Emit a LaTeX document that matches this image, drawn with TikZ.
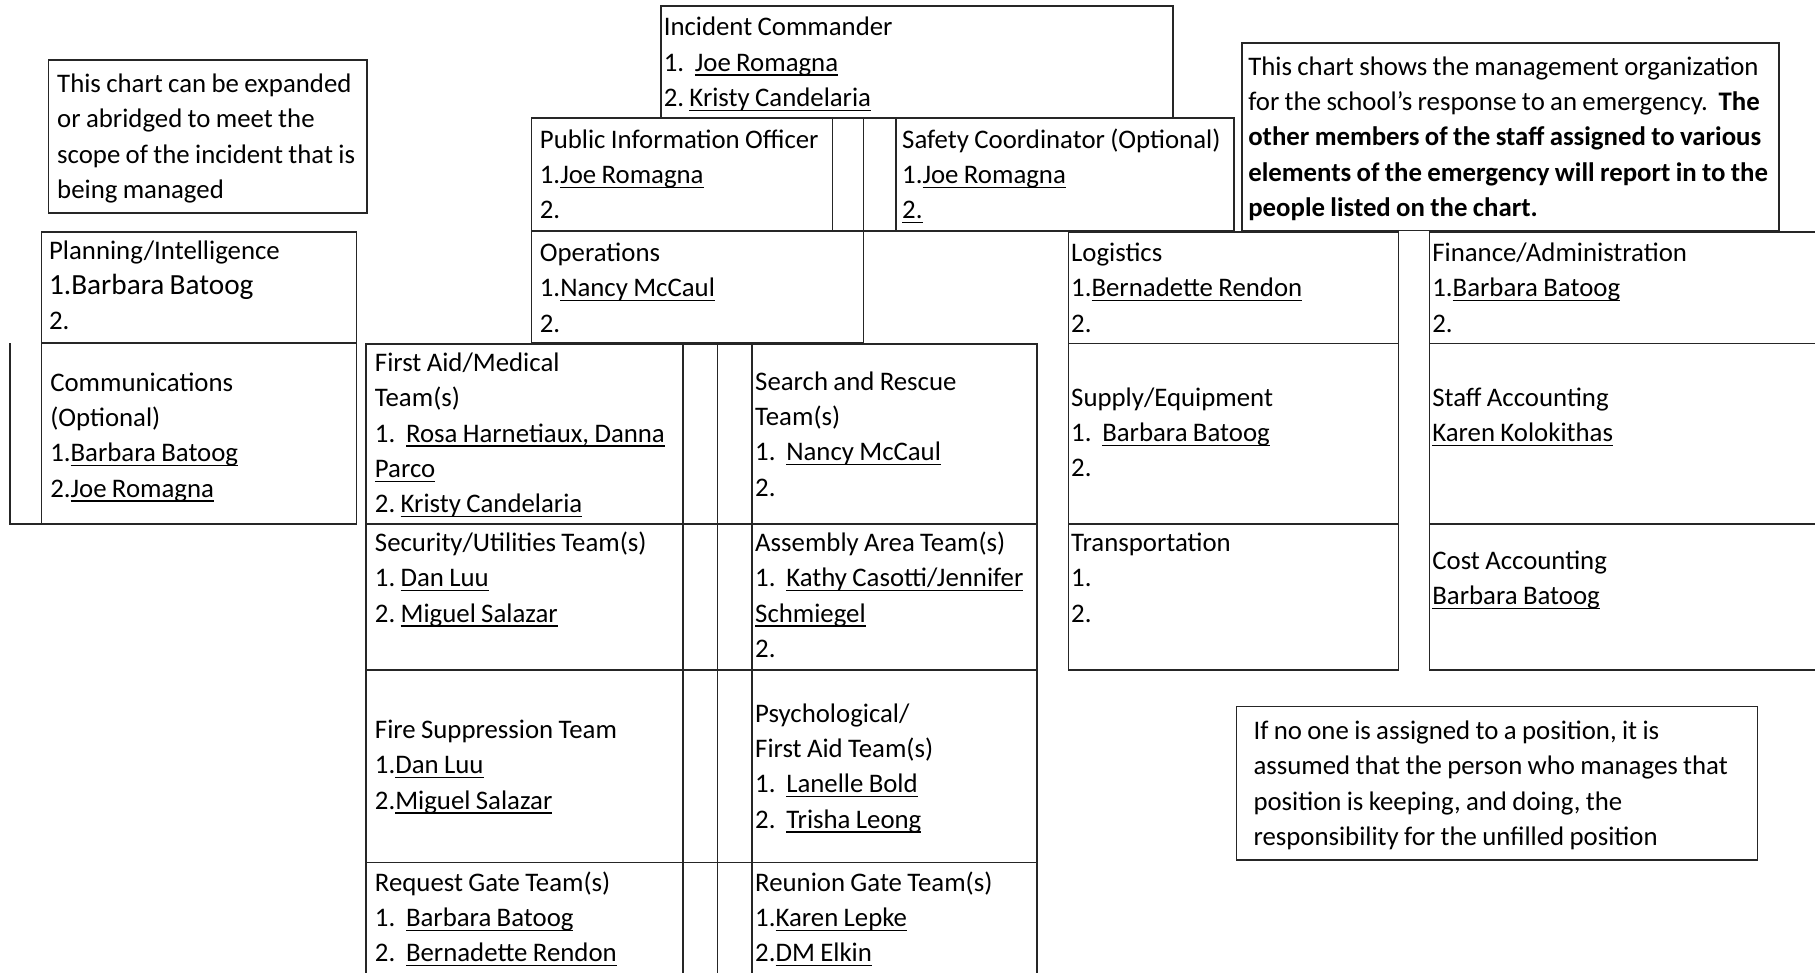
\documentclass[tikz,border=0pt]{standalone}
\usepackage{fontspec}
\setmainfont{Carlito}
\frenchspacing
\newsavebox\nmbox
\newcommand\nm[1]{\leavevmode\sbox\nmbox{#1}\rlap{\rule[-1.8pt]{\wd\nmbox}{0.5pt}}\usebox\nmbox}
\DeclareRobustCommand\tightsp{\spaceskip=0.2em\relax}
\begin{document}
\begin{tikzpicture}
[x=0.475pt, y=-0.475pt,
box/.style={draw=black!85, line width=0.6pt},
txt/.style={anchor=base west, inner sep=0pt, text width=12cm, align=left,
  font=\fontsize{11}{14.5}\selectfont, execute at begin node=\tightsp}
]
\useasboundingbox (0,0) rectangle (1568,840);

% boxes
\draw[box] (42,52) rectangle (317,184);
\draw[box] (571,5) rectangle (1013.5,102);
\draw[box] (459,102) rectangle (1066,199.5);
\draw[box] (719,102) -- (719,199.5) (746,102) -- (746,199.5) (774,102) -- (774,199.5);
\draw[box] (1073,37) rectangle (1537,199);
\draw[box] (459,199.5) rectangle (746,296);
\draw[box] (36,200.5) rectangle (308,452.5);
\draw[box] (36,296.5) -- (308,296.5);
\draw[box] (8.5,296.5) -- (8.5,452.5) -- (36,452.5);
\draw[box] (923,200.5) rectangle (1208,578.8);
\draw[box] (923,296.6) -- (1208,296.6) (923,452.7) -- (1208,452.7);
\draw[box] (1235,200.5) rectangle (1580,578.8);
\draw[box] (1235,296.6) -- (1580,296.6) (1235,452.7) -- (1580,452.7);
\draw[box] (316,297) rectangle (896,860);
\draw[box] (316,452.7) -- (896,452.7) (316,578.8) -- (896,578.8) (316,745.3) -- (896,745.3);
\draw[box] (590,297) -- (590,860) (620,297) -- (620,860) (649.5,297) -- (649.5,860);
\draw[box] (1068,610.5) rectangle (1518.5,743);

% texts
\node[txt] (scope) at (49,80) {This chart can be expanded\\or abridged to meet the\\scope of the incident that is\\being managed};
\node[txt] (ic) at (573,31) {Incident Commander\\1.\ \ \nm{Joe Romagna}\\2. \nm{Kristy Candelaria}};
\node[txt] (pio) at (466,128) {Public Information Officer\\1.\nm{Joe Romagna}\\2.};
\node[txt] (safety) at (779,128) {Safety Coordinator (Optional)\\1.\nm{Joe Romagna}\\\nm{2.}};
\node[txt] (about) at (1078,65) {This chart shows the management organization\\for the school’s response to an emergency.\ \ \textbf{The}\\\textbf{other members of the staff assigned to various}\\\textbf{elements of the emergency will report in to the}\\\textbf{people listed on the chart.}};
\node[txt] (planning) at (42,224) {Planning/Intelligence\\{\fontsize{12}{14.5}\selectfont 1.Barbara Batoog}\\2.};
\node[txt] (ops) at (466,226) {Operations\\1.\nm{Nancy McCaul}\\2.};
\node[txt] (logistics) at (925,226) {Logistics\\1.\nm{Bernadette Rendon}\\2.};
\node[txt] (finance) at (1237,226) {Finance/Administration\\1.\nm{Barbara Batoog}\\2.};
\node[txt] (comms) at (43,338) {Communications\\(Optional)\\1.\nm{Barbara Batoog}\\2.\nm{Joe Romagna}};
\node[txt] (medical) at (323.5,321) {First Aid/Medical\\Team(s)\\1.\ \ \nm{Rosa Harnetiaux, Danna}\\\nm{Parco}\\2. \nm{Kristy Candelaria}};
\node[txt] (rescue) at (652,337) {Search and Rescue\\Team(s)\\1.\ \ \nm{Nancy McCaul}\\2.};
\node[txt] (supply) at (925,351) {Supply/Equipment\\1.\ \ \nm{Barbara Batoog}\\2.};
\node[txt] (staff) at (1237,351) {Staff Accounting\\\nm{Karen Kolokithas}};
\node[txt] (security) at (323.5,476.5) {Security/Utilities Team(s)\\1. \nm{Dan Luu}\\2. \nm{Miguel Salazar}};
\node[txt] (assembly) at (652,476.5) {Assembly Area Team(s)\\1.\ \ \nm{Kathy Casotti/Jennifer}\\\nm{Schmiegel}\\2.};
\node[txt] (transport) at (925,476.5) {Transportation\\1.\\2.};
\node[txt] (cost) at (1237,492) {Cost Accounting\\\nm{Barbara Batoog}};
\node[txt] (fire) at (323.5,638) {Fire Suppression Team\\1.\nm{Dan Luu}\\2.\nm{Miguel Salazar}};
\node[txt] (psych) at (652,624) {Psychological/\\First Aid Team(s)\\1.\ \ \nm{Lanelle Bold}\\2.\ \ \nm{Trisha Leong}};
\node[txt] (request) at (323.5,770) {Request Gate Team(s)\\1.\ \ \nm{Barbara Batoog}\\2.\ \ \nm{Bernadette Rendon}};
\node[txt] (reunion) at (652,770) {Reunion Gate Team(s)\\1.\nm{Karen Lepke}\\2.\nm{DM Elkin}};
\node[txt] (unfilled) at (1082.5,639) {If no one is assigned to a position, it is\\assumed that the person who manages that\\position is keeping, and doing, the\\responsibility for the unfilled position};
\end{tikzpicture}
\end{document}
